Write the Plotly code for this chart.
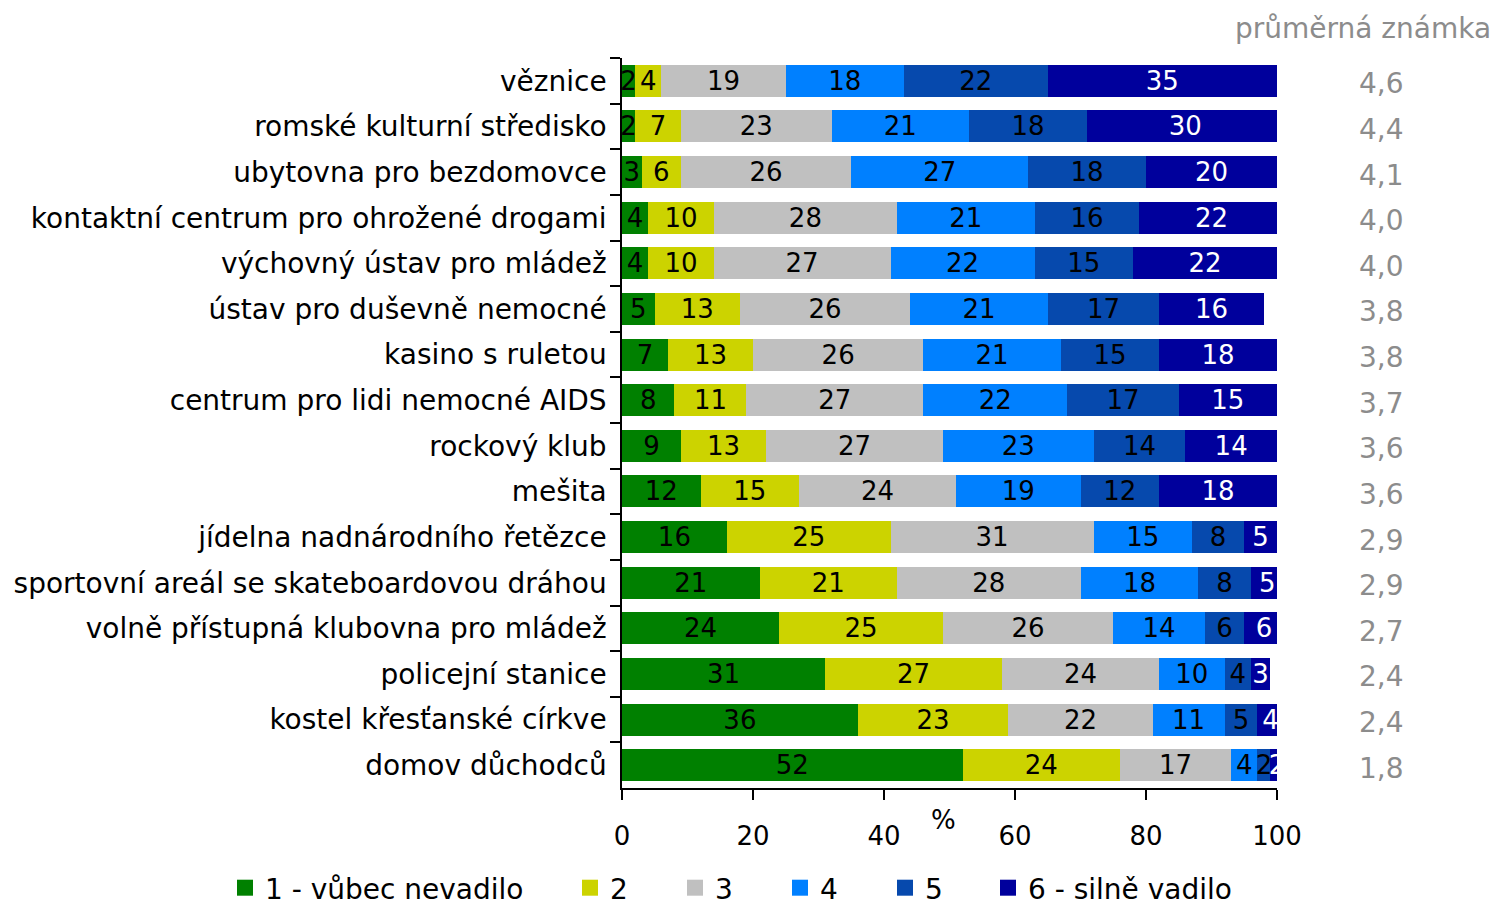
import plotly.graph_objects as go

categories = [
    "věznice",
    "romské kulturní středisko",
    "ubytovna pro bezdomovce",
    "kontaktní centrum pro ohrožené drogami",
    "výchovný ústav pro mládež",
    "ústav pro duševně nemocné",
    "kasino s ruletou",
    "centrum pro lidi nemocné AIDS",
    "rockový klub",
    "mešita",
    "jídelna nadnárodního řetězce",
    "sportovní areál se skateboardovou dráhou",
    "volně přístupná klubovna pro mládež",
    "policejní stanice",
    "kostel křesťanské církve",
    "domov důchodců",
]

s1 = [2, 2, 3, 4, 4, 5, 7, 8, 9, 12, 16, 21, 24, 31, 36, 52]
s2 = [4, 7, 6, 10, 10, 13, 13, 11, 13, 15, 25, 21, 25, 27, 23, 24]
s3 = [19, 23, 26, 28, 27, 26, 26, 27, 27, 24, 31, 28, 26, 24, 22, 17]
s4 = [18, 21, 27, 21, 22, 21, 21, 22, 23, 19, 15, 18, 14, 10, 11, 4]
s5 = [22, 18, 18, 16, 15, 17, 15, 17, 14, 12, 8, 8, 6, 4, 5, 2]
s6 = [35, 30, 20, 22, 22, 16, 18, 15, 14, 18, 5, 5, 6, 3, 4, 2]

avg_grade = ["4,6", "4,4", "4,1", "4,0", "4,0", "3,8", "3,8", "3,7",
             "3,6", "3,6", "2,9", "2,9", "2,7", "2,4", "2,4", "1,8"]

series_names = ["1 - vůbec nevadilo", "2", "3", "4", "5", "6 - silně vadilo"]
series_values = [s1, s2, s3, s4, s5, s6]
colors = ["#008000", "#CCD300", "#C0C0C0", "#0080FF", "#0649AD", "#00009C"]
text_colors = ["black", "black", "black", "black", "black", "white"]
legend_ids = ["legend", "legend2", "legend2", "legend2", "legend2", "legend3"]

FONT = "DejaVu Sans, sans-serif"

fig = go.Figure()
for name, vals, col, tcol in zip(series_names, series_values, colors, text_colors):
    fig.add_trace(go.Bar(
        y=categories, x=vals, orientation="h", name=name,
        marker=dict(color=col, line=dict(width=0)),
        text=[str(v) for v in vals], textposition="inside",
        insidetextanchor="middle", textangle=0,
        textfont=dict(family=FONT, size=26, color=tcol),
        showlegend=False, hoverinfo="x+y",
    ))

# legend entries
for name, col, lid in zip(series_names, colors, legend_ids):
    fig.add_trace(go.Scatter(
        x=[None], y=[None], mode="markers", name=name,
        marker=dict(symbol="square", size=20, color=col),
        legend=lid, showlegend=True,
    ))

OFF = 8  # page body margin
W, H = 1499, 904
L = 622 - OFF
T = 58 - OFF
R = W - (1277 - OFF)
B = H - (788 - OFF)
pw = W - L - R
ph = H - T - B


def xp(px):
    return (px - OFF - L) / pw


def yp(py):
    return (H - B - (py - OFF)) / ph


def xc(px):
    return (px - OFF) / W


def yc(py):
    return 1 - (py - OFF) / H


annotations = []
for cat, g in zip(categories, avg_grade):
    annotations.append(dict(
        x=xp(1381), xref="paper", y=cat, yref="y", text=g, showarrow=False,
        xanchor="center", yanchor="middle", yshift=-3,
        font=dict(family=FONT, size=28, color="#8C8C8C"),
    ))
annotations.append(dict(
    x=xp(1493), xref="paper", y=yp(28), yref="paper", text="průměrná známka",
    showarrow=False, xanchor="right", yanchor="middle",
    font=dict(family=FONT, size=28, color="#8C8C8C"),
))
annotations.append(dict(
    x=xp(943), xref="paper", y=yp(820), yref="paper", text="%",
    showarrow=False, xanchor="center", yanchor="middle",
    font=dict(family=FONT, size=26, color="black"),
))

legend_common = dict(
    orientation="h", xanchor="left", yanchor="middle",
    xref="container", yref="container", y=yc(888),
    font=dict(family=FONT, size=28, color="black"), itemsizing="trace",
    bgcolor="rgba(0,0,0,0)",
)

fig.update_layout(
    width=W, height=H,
    margin=dict(l=L, r=R, t=T, b=B, pad=0),
    barmode="stack", bargap=0.3,
    plot_bgcolor="white", paper_bgcolor="white",
    font=dict(family=FONT, size=26, color="black"),
    uniformtext=dict(minsize=26, mode="show"),
    xaxis=dict(
        range=[0, 100], tickvals=[0, 20, 40, 60, 80, 100],
        showgrid=False, zeroline=False, showline=True, linecolor="black",
        linewidth=1.5, ticks="outside", ticklen=10, tickcolor="black",
        tickwidth=1.5, ticklabelstandoff=14, automargin=False,
        tickfont=dict(family=FONT, size=26, color="black"),
    ),
    yaxis=dict(
        autorange="reversed", showgrid=False, zeroline=False, showline=True,
        linecolor="black", linewidth=1.5, ticks="outside", ticklen=10,
        tickcolor="black", tickwidth=1.5, tickson="boundaries",
        ticklabelstandoff=8, automargin=False,
        tickfont=dict(family=FONT, size=28, color="black"),
    ),
    legend=dict(x=xc(245 - 20), **legend_common),
    legend2=dict(x=xc(590 - 20), entrywidth=60, entrywidthmode="pixels",
                 **legend_common),
    legend3=dict(x=xc(1008 - 20), **legend_common),
    annotations=annotations,
)

fig.write_html("out.html")
